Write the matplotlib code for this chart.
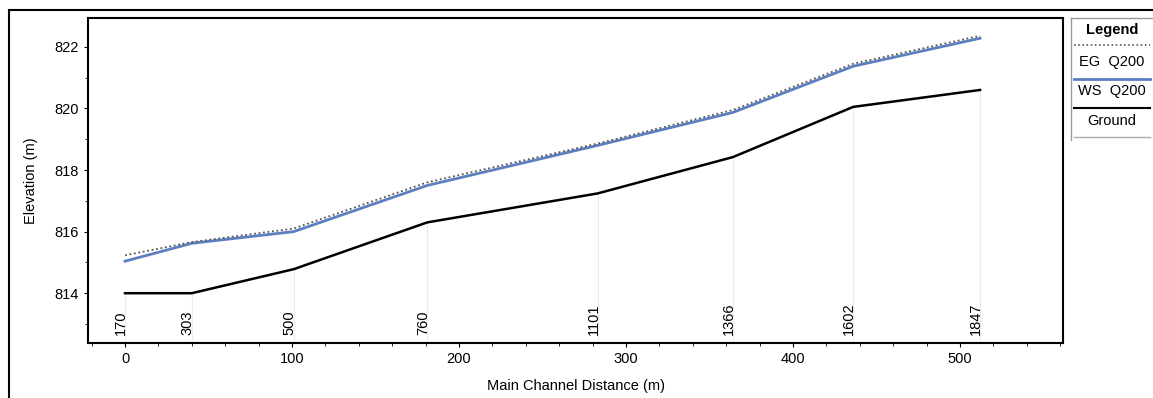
# Perfil longitudinal - HEC-RAS Q200

import matplotlib.pyplot as plt
from matplotlib.lines import Line2D
from matplotlib.ticker import MultipleLocator

plt.rcParams['font.family'] = ['Liberation Sans', 'DejaVu Sans']

estacoes = ['170', '303', '500', '760', '1101', '1366', '1602', '1847']
distancia = [0, 40, 101, 181, 283, 364, 436, 512]
eg_q200 = [815.23, 815.66, 816.1, 817.6, 818.86, 819.95, 821.45, 822.36]
ws_q200 = [815.04, 815.62, 816.0, 817.5, 818.8, 819.87, 821.37, 822.28]
fundo = [814.0, 814.0, 814.78, 816.3, 817.24, 818.42, 820.05, 820.6]

fs = 10.5

fig = plt.figure(figsize=(11.53, 3.98), dpi=100)
ax = fig.add_axes([0.0763, 0.138, 0.8457, 0.817])

# linhas verticais claras nas estações
for x, g in zip(distancia, fundo):
    ax.plot([x, x], [812.38, g], color='#ececec', lw=0.8, zorder=1)

ax.plot(distancia, ws_q200, color='#5b7fc0', lw=2.0, zorder=3)
ax.plot(distancia, eg_q200, color='#555555', lw=1.3, ls=(0, (1, 1.5)), zorder=4)
ax.plot(distancia, fundo, color='black', lw=1.8, zorder=5)

# nomes das estações
for x, s in zip(distancia, estacoes):
    ax.text(x - 2.5, 0.025, s, rotation=90, ha='center', va='bottom', fontsize=fs,
            transform=ax.get_xaxis_transform())

ax.set_xlim(-22.2, 561.7)
ax.set_ylim(812.38, 822.94)
ax.xaxis.set_major_locator(MultipleLocator(100))
ax.xaxis.set_minor_locator(MultipleLocator(20))
ax.yaxis.set_major_locator(MultipleLocator(2))
ax.yaxis.set_minor_locator(MultipleLocator(1))
ax.tick_params(labelsize=fs, length=3, width=0.8)
ax.tick_params(which='minor', length=2, width=0.6)
for sp in ax.spines.values():
    sp.set_linewidth(1.5)
ax.set_xlabel('Main Channel Distance (m)', fontsize=fs, labelpad=9)
ax.set_ylabel('Elevation (m)', fontsize=fs, labelpad=12)

# moldura externa
fig.add_artist(Line2D([9 / 1153, 9 / 1153], [0, 388 / 398], color='black', lw=1.5))
fig.add_artist(Line2D([9 / 1153, 1], [388 / 398, 388 / 398], color='black', lw=1.5))

# legenda
lx0, lx1 = 1071 / 1153, 1.0
fig.add_artist(Line2D([lx0, lx0], [1 - 18 / 398, 1 - 140 / 398], color='#999999', lw=1))
fig.add_artist(Line2D([lx0, lx1], [1 - 18 / 398, 1 - 18 / 398], color='#999999', lw=1))
fig.text((lx0 + lx1) / 2, 1 - 30 / 398, 'Legend', ha='center', va='center',
         fontsize=fs, fontweight='bold')
fig.add_artist(Line2D([lx0 + 0.003, lx1 - 0.003], [1 - 45 / 398] * 2,
                      color='#555555', lw=1.2, ls=(0, (1, 1.5))))
fig.text((lx0 + lx1) / 2, 1 - 62 / 398, 'EG  Q200', ha='center', va='center', fontsize=fs)
fig.add_artist(Line2D([lx0 + 0.003, lx1 - 0.003], [1 - 79 / 398] * 2,
                      color='#5b7fc0', lw=2))
fig.text((lx0 + lx1) / 2, 1 - 91 / 398, 'WS  Q200', ha='center', va='center', fontsize=fs)
fig.add_artist(Line2D([lx0 + 0.003, lx1 - 0.003], [1 - 108 / 398] * 2,
                      color='black', lw=1.5))
fig.text((lx0 + lx1) / 2, 1 - 121 / 398, 'Ground', ha='center', va='center', fontsize=fs)
fig.add_artist(Line2D([lx0 + 0.003, lx1 - 0.003], [1 - 137 / 398] * 2,
                      color='#aaaaaa', lw=1))

fig.savefig('out.png', dpi=100)
